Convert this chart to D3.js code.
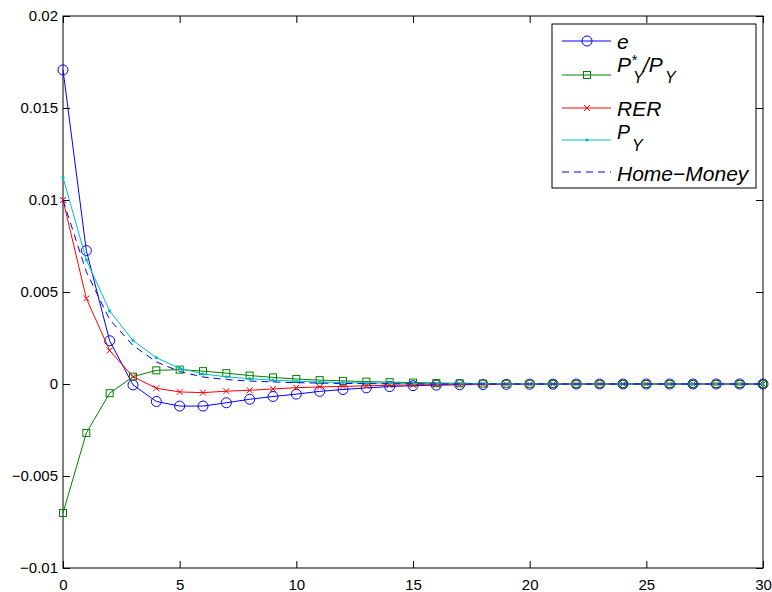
<!DOCTYPE html>
<html>
<head>
<meta charset="utf-8">
<script src="https://cdn.jsdelivr.net/npm/d3@7"></script>
<style>
  body { margin:0; background:#fff; }
  text { font-family: "Liberation Sans", Helvetica, Arial, sans-serif; }
</style>
</head>
<body>
<svg id="chart"></svg>
<script>
// periods on the x axis
var periods = d3.range(0, 31);

// impulse responses
var eVals = [0.01707, 0.00725, 0.00235, -0.00005, -0.00095, -0.00120, -0.00120, -0.00102, -0.00083, -0.00068,
             -0.00055, -0.00040, -0.00030, -0.00021, -0.00014, -0.00009, -0.00006, -0.00004, -0.00003, -0.00002,
             -0.00001, -0.00001, 0, 0, 0, 0, 0, 0, 0, 0, 0];
var ratioVals = [-0.00701, -0.00266, -0.00050, 0.00040, 0.00074, 0.00078, 0.00070, 0.00059, 0.00046, 0.00036,
                 0.00027, 0.00021, 0.00017, 0.00013, 0.00010, 0.00008, 0.00005, 0.00004, 0.00002, 0.00001,
                 0.00001, 0, 0, 0, 0, 0, 0, 0, 0, 0, 0];
var rerVals = [0.01000, 0.00465, 0.00182, 0.00040, -0.00023, -0.00043, -0.00047, -0.00039, -0.00034, -0.00027,
               -0.00020, -0.00016, -0.00013, -0.00010, -0.00007, -0.00005, -0.00004, -0.00003, -0.00002, -0.00001,
               -0.00001, 0, 0, 0, 0, 0, 0, 0, 0, 0, 0];
var pyVals = [0.01123, 0.00674, 0.00397, 0.00237, 0.00143, 0.00086, 0.00055, 0.00039, 0.00029, 0.00021,
              0.00015, 0.00011, 0.00008, 0.00006, 0.00004, 0.00003, 0.00002, 0.00001, 0.00001, 0,
              0, 0, 0, 0, 0, 0, 0, 0, 0, 0, 0];
var homeMoneyVals = [0.01000, 0.00610, 0.00350, 0.00210, 0.00120, 0.00068, 0.00038, 0.00024, 0.00016, 0.00011,
                     0.00007, 0.00005, 0.00003, 0.00002, 0.00001, 0.00001, 0, 0, 0, 0,
                     0, 0, 0, 0, 0, 0, 0, 0, 0, 0, 0];

var xTicks = [0, 5, 10, 15, 20, 25, 30];
var yTicks = [-0.01, -0.005, 0, 0.005, 0.01, 0.015, 0.02];
var yTickLabels = ["\u22120.01", "\u22120.005", "0", "0.005", "0.01", "0.015", "0.02"];

var series = [
    {name:"e", values:eVals, color:"#0000ff", marker:"circle", dash:null},
    {name:"ratio", values:ratioVals, color:"#008000", marker:"square", dash:null},
    {name:"RER", values:rerVals, color:"#ff0000", marker:"x", dash:null},
    {name:"PY", values:pyVals, color:"#00bfbf", marker:"dot", dash:null},
    {name:"Home\u2212Money", values:homeMoneyVals, color:"#0000ff", marker:null, dash:"7,5"}
];

var screen = {width:772, height:592};
var margins = {top:16, bottom:24, left:63, right:9};
var graph = {
    width: screen.width - margins.left - margins.right,
    height: screen.height - margins.top - margins.bottom
};

var svg = d3.select("#chart")
    .attr("width", screen.width)
    .attr("height", screen.height);

var xScale = d3.scaleLinear().domain([0, 30]).range([0, graph.width]);
var yScale = d3.scaleLinear().domain([-0.01, 0.02]).range([graph.height, 0]);

var g = svg.append("g")
    .attr("transform", "translate(" + margins.left + "," + margins.top + ")");

// box around plot
g.append("rect")
    .attr("x", 0).attr("y", 0)
    .attr("width", graph.width).attr("height", graph.height)
    .attr("fill", "none").attr("stroke", "#000").attr("stroke-width", 1);

var styleAxis = function(sel) {
    sel.select(".domain").remove();
    sel.selectAll("line").attr("stroke", "#000");
    sel.selectAll("text").attr("fill", "#000").style("font-size", "15px");
};

g.append("g")
    .attr("transform", "translate(0," + graph.height + ")")
    .call(d3.axisBottom(xScale).tickValues(xTicks).tickSizeInner(-7).tickSizeOuter(0).tickPadding(11))
    .call(styleAxis);
g.append("g")
    .call(d3.axisTop(xScale).tickValues(xTicks).tickSizeInner(-7).tickSizeOuter(0).tickFormat(""))
    .call(styleAxis);
g.append("g")
    .call(d3.axisLeft(yScale).tickValues(yTicks).tickSizeInner(-7).tickSizeOuter(0).tickPadding(5)
        .tickFormat(function(d, i) { return yTickLabels[i]; }))
    .call(styleAxis);
g.append("g")
    .attr("transform", "translate(" + graph.width + ",0)")
    .call(d3.axisRight(yScale).tickValues(yTicks).tickSizeInner(-7).tickSizeOuter(0).tickFormat(""))
    .call(styleAxis);

// draw a marker of a given kind
var drawMarker = function(sel, kind, color, x, y) {
    if (kind == "circle") {
        sel.append("circle").attr("cx", x).attr("cy", y).attr("r", 5)
            .attr("fill", "none").attr("stroke", color).attr("stroke-width", 1);
    } else if (kind == "square") {
        sel.append("rect").attr("x", x - 3.5).attr("y", y - 3.5).attr("width", 7).attr("height", 7)
            .attr("fill", "none").attr("stroke", color).attr("stroke-width", 1);
    } else if (kind == "x") {
        sel.append("path").attr("d", "M" + (x - 3) + "," + (y - 3) + "L" + (x + 3) + "," + (y + 3) +
                "M" + (x - 3) + "," + (y + 3) + "L" + (x + 3) + "," + (y - 3))
            .attr("stroke", color).attr("stroke-width", 1);
    } else if (kind == "dot") {
        sel.append("circle").attr("cx", x).attr("cy", y).attr("r", 1.6).attr("fill", color);
    }
};

var line = d3.line()
    .x(function(d, i) { return xScale(periods[i]); })
    .y(function(d) { return yScale(d); });

series.forEach(function(s) {
    var sg = g.append("g");
    sg.append("path")
        .attr("d", line(s.values))
        .attr("fill", "none")
        .attr("stroke", s.color)
        .attr("stroke-width", 1)
        .attr("stroke-dasharray", s.dash);
    if (s.marker) {
        s.values.forEach(function(v, i) {
            drawMarker(sg, s.marker, s.color, xScale(periods[i]), yScale(v));
        });
    }
});

// legend
var leg = svg.append("g").attr("transform", "translate(552,24)");
leg.append("rect").attr("x", 0).attr("y", 0).attr("width", 204).attr("height", 164)
    .attr("fill", "#fff").attr("stroke", "#000").attr("stroke-width", 1);

var rowY = [17, 51, 84, 116, 148];
series.forEach(function(s, i) {
    leg.append("line").attr("x1", 10).attr("x2", 59).attr("y1", rowY[i]).attr("y2", rowY[i])
        .attr("stroke", s.color).attr("stroke-width", 1).attr("stroke-dasharray", s.dash);
    if (s.marker) drawMarker(leg, s.marker, s.color, 35, rowY[i]);
});

var legText = function(x, y, str, size) {
    return leg.append("text").attr("x", x).attr("y", y).text(str)
        .style("font-size", size + "px").style("font-style", "italic").attr("fill", "#000");
};
legText(65, 25, "e", 21);
legText(65, 48, "P", 21);
legText(79, 41, "*", 15);
legText(81, 59, "Y", 16);
legText(91, 48, "/P", 21);
legText(113, 59, "Y", 16);
legText(65, 92, "RER", 21);
legText(65, 115, "P", 19.5);
legText(80, 127, "Y", 16);
legText(65, 157, "Home\u2212Money", 21);
</script>
</body>
</html>
